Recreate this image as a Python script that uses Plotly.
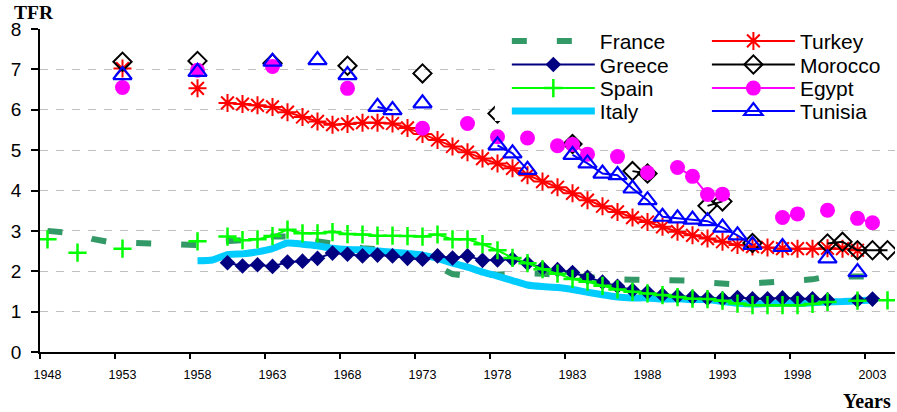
import plotly.graph_objects as go

ALL_YEARS = list(range(1948, 2005))

# ---------------- data (TFR by year) ----------------
france_years = list(range(1948, 2004))
france_tfr = [3.00, 2.98, 2.93, 2.80, 2.73, 2.71, 2.70, 2.68, 2.67, 2.67,
              2.65, 2.72, 2.74, 2.78, 2.80, 2.86, 2.86, 2.80, 2.74, 2.68,
              2.62, 2.57, 2.55, 2.50, 2.42, 2.31, 2.11, 1.93, 1.88, 1.90,
              1.92, 1.95, 1.95, 1.94, 1.91, 1.86, 1.83, 1.81, 1.80, 1.79,
              1.78, 1.78, 1.78, 1.77, 1.72, 1.68, 1.67, 1.70, 1.72, 1.73,
              1.75, 1.80, 1.87, 1.88, 1.86, 1.87]

greece_years = list(range(1960, 2001)) + [2002, 2003]
greece_tfr = [2.21, 2.13, 2.16, 2.12, 2.23, 2.25, 2.32, 2.45, 2.42, 2.38,
              2.40, 2.38, 2.32, 2.30, 2.38, 2.33, 2.38, 2.27, 2.28, 2.30,
              2.20, 2.08, 2.04, 1.97, 1.85, 1.73, 1.63, 1.53, 1.48, 1.41,
              1.38, 1.36, 1.33, 1.32, 1.35, 1.32, 1.32, 1.34, 1.32, 1.32,
              1.29, 1.28, 1.31]

spain_years = [1948, 1950, 1953, 1958] + list(range(1960, 2001)) + [2002, 2004]
spain_tfr = [2.79, 2.46, 2.56, 2.74,
             2.86, 2.77, 2.79, 2.87, 3.03, 2.94, 2.94, 2.97, 2.92, 2.91,
             2.88, 2.88, 2.87, 2.86, 2.91, 2.79, 2.79, 2.67, 2.52, 2.33,
             2.20, 2.05, 1.94, 1.81, 1.74, 1.64, 1.55, 1.49, 1.45, 1.41,
             1.36, 1.32, 1.31, 1.27, 1.20, 1.16, 1.16, 1.16, 1.16, 1.19,
             1.24, 1.27, 1.28]

italy_years = list(range(1958, 2004))
italy_tfr = [2.26, 2.28, 2.41, 2.43, 2.48, 2.56, 2.70, 2.67, 2.63, 2.57,
             2.54, 2.53, 2.50, 2.48, 2.44, 2.40, 2.32, 2.20, 2.10, 1.98,
             1.88, 1.77, 1.66, 1.62, 1.60, 1.55, 1.48, 1.42, 1.36, 1.34,
             1.34, 1.31, 1.32, 1.30, 1.30, 1.25, 1.21, 1.19, 1.20, 1.21,
             1.20, 1.22, 1.24, 1.25, 1.27, 1.29]

turkey_years = [1953, 1958] + list(range(1960, 2003))
turkey_tfr = [7.02, 6.53,
              6.17, 6.14, 6.11, 6.07, 5.94, 5.82, 5.71, 5.63, 5.65, 5.68,
              5.68, 5.66, 5.55, 5.40, 5.25, 5.09, 4.95, 4.79, 4.67, 4.55,
              4.38, 4.22, 4.08, 3.93, 3.76, 3.61, 3.47, 3.33, 3.22, 3.10,
              2.98, 2.89, 2.81, 2.73, 2.65, 2.61, 2.59, 2.56, 2.56, 2.56,
              2.57, 2.56, 2.52]

morocco_years = [1953, 1958, 1963, 1968, 1973, 1978, 1983, 1987, 1988,
                 1992, 1993, 1995, 2000, 2001, 2002, 2003, 2004]
morocco_tfr = [7.19, 7.21, 7.15, 7.09, 6.90, 5.91, 5.15, 4.48, 4.42,
               3.62, 3.73, 2.70, 2.69, 2.73, 2.52, 2.52, 2.52]

egypt_years = [1953, 1958, 1963, 1968, 1973, 1976, 1978, 1980, 1982, 1983,
               1984, 1986, 1988, 1990, 1991, 1992, 1993, 1997, 1998, 2000,
               2002, 2003]
egypt_tfr = [6.55, 6.98, 7.07, 6.53, 5.54, 5.66, 5.33, 5.30, 5.11, 5.14,
             4.90, 4.84, 4.44, 4.57, 4.35, 3.90, 3.91, 3.33, 3.42, 3.51,
             3.31, 3.20]

tunisia_years = [1953, 1958, 1963, 1966, 1968, 1970, 1971, 1973, 1978, 1979,
                 1980, 1983, 1984, 1985, 1986, 1987, 1988, 1989, 1990, 1991,
                 1992, 1993, 1994, 1995, 1997, 2000, 2002]
tunisia_tfr = [6.86, 6.94, 7.19, 7.23, 6.86, 6.07, 5.99, 6.16, 5.12, 4.92,
               4.51, 4.88, 4.67, 4.42, 4.38, 4.05, 3.76, 3.35, 3.31, 3.28,
               3.24, 3.08, 2.89, 2.65, 2.60, 2.32, 1.98]

x_tick_labels = [str(y) for y in range(1948, 2004, 5)]
y_ticks = list(range(0, 9))


def full(years, vals):
    """Spread sparse year/value lists over every year (None = gap)."""
    m = dict(zip(years, vals))
    return [m.get(y) for y in ALL_YEARS]


FONT = "Arial, Liberation Sans, sans-serif"
fig = go.Figure()

# draw order: France, Italy, Greece, Spain, Turkey, Morocco, Egypt, Tunisia
fig.add_trace(go.Scatter(
    x=ALL_YEARS, y=full(france_years, france_tfr), name="France", mode="lines",
    line=dict(color="#339966", width=6, dash="15px,30px"), legend="legend"))
fig.add_trace(go.Scatter(
    x=ALL_YEARS, y=full(italy_years, italy_tfr), name="Italy", mode="lines",
    line=dict(color="#00ccff", width=7, shape="spline", smoothing=0.6),
    legend="legend4"))
fig.add_trace(go.Scatter(
    x=ALL_YEARS, y=full(greece_years, greece_tfr), name="Greece",
    mode="lines+markers", line=dict(color="#000080", width=2),
    marker=dict(symbol="diamond", size=12, color="#000080"), legend="legend2"))
fig.add_trace(go.Scatter(
    x=ALL_YEARS, y=full(spain_years, spain_tfr), name="Spain",
    mode="lines+markers", line=dict(color="#00ff00", width=2),
    marker=dict(symbol="cross-thin-open", size=13,
                line=dict(color="#00ff00", width=2.5)), legend="legend3"))
fig.add_trace(go.Scatter(
    x=ALL_YEARS, y=full(turkey_years, turkey_tfr), name="Turkey",
    mode="lines+markers", line=dict(color="#ff0000", width=2),
    marker=dict(symbol="asterisk-open", size=15,
                line=dict(color="#ff0000", width=2)), legend="legend5"))
fig.add_trace(go.Scatter(
    x=ALL_YEARS, y=full(morocco_years, morocco_tfr), name="Morocco",
    mode="lines+markers", line=dict(color="#000000", width=2),
    marker=dict(symbol="diamond-open", size=14, color="#000000",
                line=dict(color="#000000", width=2)), legend="legend6"))
fig.add_trace(go.Scatter(
    x=ALL_YEARS, y=full(egypt_years, egypt_tfr), name="Egypt",
    mode="lines+markers", line=dict(color="#ff00ff", width=2),
    marker=dict(symbol="circle", size=15, color="#ff00ff"), legend="legend7"))
fig.add_trace(go.Scatter(
    x=ALL_YEARS, y=full(tunisia_years, tunisia_tfr), name="Tunisia",
    mode="lines+markers", line=dict(color="#0000ff", width=2),
    marker=dict(symbol="triangle-up-open", size=16, color="#0000ff",
                line=dict(color="#0000ff", width=2.2)), legend="legend8"))

# legends: one per entry, arranged in two columns of four
col_x = [0.546, 0.780]
row_y = [0.962, 0.889, 0.816, 0.745]
legend_font = dict(family=FONT, size=21, color="#000000")
legends = {}
names = ["legend", "legend2", "legend3", "legend4",
         "legend5", "legend6", "legend7", "legend8"]
for i, nm in enumerate(names):
    legends[nm] = dict(x=col_x[i // 4], y=row_y[i % 4], xanchor="left",
                       yanchor="middle", bgcolor="rgba(0,0,0,0)",
                       borderwidth=0, itemwidth=83, font=legend_font)

fig.update_layout(
    width=897, height=412,
    margin=dict(l=40, r=2, t=29, b=60),
    paper_bgcolor="white", plot_bgcolor="white",
    showlegend=True,
    **legends,
    xaxis=dict(
        range=[1947.5, 2004.5],
        tickvals=list(range(1948, 2004, 5)), ticktext=x_tick_labels,
        ticks="", showgrid=False, zeroline=False,
        showline=True, linecolor="#000000", linewidth=1.5,
        tickfont=dict(family=FONT, size=12.5, color="#000000"),
        ticklabelstandoff=10,
        minor=dict(tickvals=[y - 0.5 for y in range(1948, 2004, 5)],
                   ticks="outside", ticklen=5, tickwidth=1.5,
                   tickcolor="#000000", showgrid=False),
    ),
    yaxis=dict(
        range=[0, 8], tickvals=y_ticks,
        ticks="outside", ticklen=7, tickwidth=1.5, tickcolor="#000000",
        showline=True, linecolor="#000000", linewidth=1.5,
        showgrid=True, gridcolor="#c0c0c0", gridwidth=1, griddash="8px,8px",
        zeroline=False,
        tickfont=dict(family=FONT, size=19, color="#000000"),
        ticklabelstandoff=6,
    ),
    shapes=[dict(type="rect", xref="paper", yref="paper",
                 x0=0.532, x1=1.01, y0=0.715, y1=1.03,
                 fillcolor="white", line=dict(width=0), layer="above")],
    annotations=[
        dict(text="<b>TFR</b>", xref="paper", yref="paper",
             x=-0.033, y=1.052, xanchor="left", yanchor="middle",
             showarrow=False,
             font=dict(family="Liberation Serif, Times New Roman, serif",
                       size=19.5, color="#000000")),
        dict(text="<b>Years</b>", xref="paper", yref="paper",
             x=0.998, y=-0.153, xanchor="right", yanchor="middle",
             showarrow=False,
             font=dict(family="Liberation Serif, Times New Roman, serif",
                       size=20, color="#000000")),
    ],
)

fig.write_html("out.html",
               config={"displayModeBar": False},
               post_script="document.body.style.margin='0px';"
                           "document.body.style.padding='0px';")
